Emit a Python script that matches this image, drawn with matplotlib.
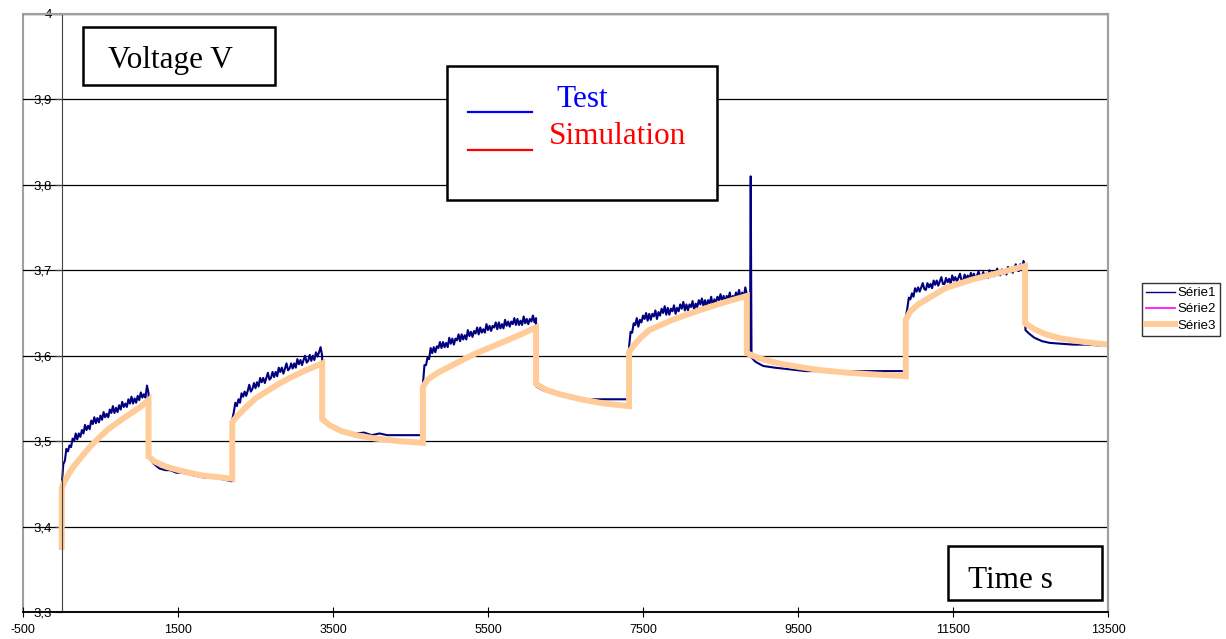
import numpy as np
import matplotlib.pyplot as plt
from matplotlib.patches import Rectangle
from matplotlib.lines import Line2D
from matplotlib.ticker import FuncFormatter

plt.rcParams['axes.unicode_minus'] = False

# axis ticks
x_ticks = [-500, 1500, 3500, 5500, 7500, 9500, 11500, 13500]
y_ticks = [3.3, 3.4, 3.5, 3.6, 3.7, 3.8, 3.9, 4.0]

# simulation (Série3); repeated times are the current steps
sim_t = [0, 0, 30, 100, 150, 250, 360, 480, 600, 800, 1000, 1120,
         1120, 1200, 1350, 1550, 1800, 2000, 2200,
         2200, 2250, 2380, 2500, 2640, 2800, 2940, 3150, 3360,
         3360, 3450, 3600, 3800, 4050, 4350, 4660,
         4660, 4720, 4850, 5000, 5300, 5640, 5900, 6120,
         6120, 6250, 6420, 6700, 7000, 7320,
         7320, 7380, 7480, 7580, 7880, 8220, 8570, 8840,
         8840, 9000, 9250, 9500, 9800, 10150, 10500, 10890,
         10890, 10950, 11050, 11140, 11400, 11740, 12090, 12430,
         12430, 12550, 12700, 12900, 13200, 13500]
sim_v = [3.376, 3.445, 3.452, 3.463, 3.470, 3.481, 3.493, 3.504, 3.514, 3.527, 3.539, 3.548,
         3.482, 3.476, 3.470, 3.465, 3.460, 3.458, 3.456,
         3.522, 3.528, 3.540, 3.550, 3.558, 3.567, 3.574, 3.583, 3.591,
         3.526, 3.519, 3.512, 3.507, 3.503, 3.500, 3.498,
         3.563, 3.572, 3.580, 3.587, 3.601, 3.614, 3.624, 3.633,
         3.567, 3.560, 3.555, 3.549, 3.544, 3.541,
         3.604, 3.612, 3.622, 3.630, 3.642, 3.653, 3.663, 3.670,
         3.603, 3.597, 3.591, 3.587, 3.583, 3.580, 3.578, 3.576,
         3.642, 3.652, 3.660, 3.665, 3.679, 3.689, 3.697, 3.705,
         3.638, 3.631, 3.625, 3.620, 3.616, 3.613]

# test (Série1): charge phases, samples every 20 s between start and end
charge_start = [0, 2200, 4660, 7320, 10890]
charge_end = [1120, 3360, 6120, 8840, 12430]
test_c1 = [3.448, 3.473, 3.477, 3.491, 3.488, 3.495, 3.493, 3.503, 3.500, 3.509,
           3.502, 3.509, 3.505, 3.513, 3.509, 3.519, 3.513, 3.518, 3.514, 3.524,
           3.520, 3.528, 3.521, 3.527, 3.522, 3.530, 3.525, 3.534, 3.528, 3.532,
           3.528, 3.537, 3.533, 3.541, 3.533, 3.539, 3.534, 3.542, 3.537, 3.546,
           3.540, 3.544, 3.540, 3.549, 3.544, 3.552, 3.544, 3.550, 3.545, 3.553,
           3.548, 3.557, 3.551, 3.555, 3.551, 3.565, 3.556]
test_c2 = [3.525, 3.534, 3.545, 3.541, 3.549, 3.545, 3.556, 3.552, 3.558, 3.553,
           3.559, 3.566, 3.558, 3.561, 3.568, 3.562, 3.569, 3.564, 3.574, 3.569,
           3.574, 3.568, 3.574, 3.580, 3.572, 3.574, 3.581, 3.575, 3.581, 3.576,
           3.586, 3.581, 3.586, 3.579, 3.585, 3.591, 3.583, 3.585, 3.591, 3.585,
           3.591, 3.586, 3.596, 3.590, 3.595, 3.589, 3.595, 3.600, 3.592, 3.594,
           3.601, 3.594, 3.600, 3.595, 3.604, 3.599, 3.604, 3.610, 3.600]
test_c3 = [3.566, 3.589, 3.589, 3.598, 3.596, 3.609, 3.603, 3.610, 3.604, 3.611,
           3.609, 3.616, 3.609, 3.616, 3.610, 3.615, 3.610, 3.621, 3.614, 3.620,
           3.613, 3.620, 3.618, 3.625, 3.617, 3.625, 3.619, 3.624, 3.619, 3.630,
           3.623, 3.628, 3.622, 3.629, 3.626, 3.633, 3.625, 3.633, 3.627, 3.631,
           3.627, 3.637, 3.630, 3.635, 3.629, 3.635, 3.633, 3.639, 3.631, 3.639,
           3.632, 3.637, 3.632, 3.642, 3.635, 3.640, 3.634, 3.640, 3.637, 3.644,
           3.636, 3.643, 3.636, 3.641, 3.636, 3.646, 3.638, 3.643, 3.637, 3.643,
           3.640, 3.647, 3.639, 3.644]
test_c4 = [3.610, 3.628, 3.627, 3.638, 3.636, 3.644, 3.634, 3.642, 3.639, 3.647,
           3.643, 3.650, 3.641, 3.649, 3.642, 3.649, 3.646, 3.653, 3.643, 3.651,
           3.647, 3.655, 3.650, 3.658, 3.648, 3.656, 3.648, 3.655, 3.652, 3.659,
           3.649, 3.656, 3.652, 3.660, 3.655, 3.663, 3.653, 3.660, 3.653, 3.660,
           3.657, 3.664, 3.653, 3.661, 3.657, 3.665, 3.660, 3.667, 3.658, 3.665,
           3.658, 3.665, 3.661, 3.669, 3.658, 3.666, 3.662, 3.669, 3.665, 3.672,
           3.663, 3.670, 3.662, 3.670, 3.666, 3.674, 3.663, 3.670, 3.667, 3.674,
           3.669, 3.677, 3.667, 3.674, 3.667, 3.680, 3.672]
test_c5 = [3.645, 3.655, 3.668, 3.666, 3.673, 3.669, 3.679, 3.675, 3.680, 3.675,
           3.680, 3.685, 3.678, 3.677, 3.685, 3.680, 3.684, 3.679, 3.688, 3.683,
           3.688, 3.682, 3.687, 3.692, 3.684, 3.684, 3.691, 3.686, 3.690, 3.684,
           3.694, 3.688, 3.692, 3.687, 3.691, 3.696, 3.688, 3.688, 3.695, 3.689,
           3.694, 3.688, 3.697, 3.691, 3.696, 3.690, 3.694, 3.699, 3.692, 3.691,
           3.698, 3.692, 3.696, 3.691, 3.700, 3.694, 3.698, 3.693, 3.697, 3.702,
           3.695, 3.694, 3.701, 3.696, 3.700, 3.695, 3.704, 3.698, 3.703, 3.697,
           3.702, 3.707, 3.700, 3.699, 3.707, 3.701, 3.711, 3.704]

# test (Série1): rest phases
test_r1_t = [1125, 1180, 1260, 1340, 1400, 1480, 1560, 1650, 1700, 1800, 1900, 2000, 2100, 2195]
test_r1_v = [3.482, 3.474, 3.468, 3.466, 3.466, 3.463, 3.463, 3.461, 3.460, 3.458, 3.457, 3.457, 3.455, 3.453]
test_r2_t = [3365, 3420, 3500, 3580, 3700, 3800, 3900, 4000, 4100, 4200, 4400, 4655]
test_r2_v = [3.529, 3.521, 3.515, 3.513, 3.510, 3.509, 3.510, 3.507, 3.509, 3.507, 3.507, 3.507]
test_r3_t = [6125, 6200, 6300, 6420, 6550, 6700, 6900, 7100, 7315]
test_r3_v = [3.564, 3.560, 3.557, 3.554, 3.551, 3.549, 3.549, 3.549, 3.549]
test_r4_t = [8850, 8880, 8890, 8900, 8950, 9050, 9200, 9400, 9600, 9800, 10000, 10300, 10600, 10885]
test_r4_v = [3.600, 3.600, 3.810, 3.598, 3.593, 3.588, 3.586, 3.584, 3.582, 3.582, 3.582, 3.582, 3.582, 3.582]
test_r5_t = [12435, 12480, 12550, 12650, 12750, 12900, 13050, 13200, 13400, 13500]
test_r5_v = [3.630, 3.626, 3.621, 3.617, 3.615, 3.614, 3.613, 3.613, 3.612, 3.612]

charges = [test_c1, test_c2, test_c3, test_c4, test_c5]
rests = [(test_r1_t, test_r1_v), (test_r2_t, test_r2_v), (test_r3_t, test_r3_v),
         (test_r4_t, test_r4_v), (test_r5_t, test_r5_v)]

test_t = [0.0]
test_v = [3.385]
for i in range(5):
    test_t += list(np.linspace(charge_start[i], charge_end[i], len(charges[i])))
    test_v += charges[i]
    test_t += rests[i][0]
    test_v += rests[i][1]

W, H = 1226, 639
def fx(px):
    return px / W
def fy(py):
    return 1 - py / H

fig = plt.figure(figsize=(W / 100, H / 100), dpi=100)
ax = fig.add_axes([fx(23), fy(612), (1108 - 23) / W, (612 - 14) / H])

l1, = ax.plot(test_t, test_v, color='#000080', lw=1.5, label='Série1')
l2, = ax.plot([], [], color='#FF00FF', lw=1.2, label='Série2')
l3, = ax.plot(sim_t, sim_v, color='#FFCC99', lw=4.3, label='Série3',
              solid_joinstyle='miter')

ax.set_xlim(-500, 13500)
ax.set_ylim(3.3, 4.0)
ax.set_xticks(x_ticks)
ax.set_yticks(y_ticks)
ax.yaxis.set_major_formatter(FuncFormatter(lambda v, p: ('%g' % round(v, 1)).replace('.', ',')))
ax.yaxis.grid(True, color='black', lw=0.9)

ax.spines['left'].set_position(('data', 0))
ax.spines['left'].set_color('#404040')
ax.spines['top'].set_color('#a0a0a0')
ax.spines['right'].set_color('#a0a0a0')
ax.spines['top'].set_linewidth(1.5)
ax.spines['right'].set_linewidth(1.5)
ax.spines['bottom'].set_color('black')
ax.spines['bottom'].set_linewidth(1.3)
ax.add_patch(Rectangle((0, 0), 1, 1, transform=ax.transAxes, fill=False,
                       ec='#a0a0a0', lw=1.5, zorder=0, clip_on=False))

ax.tick_params(axis='y', direction='out', length=5, color='#404040',
               labelsize=9.5, pad=2)
ax.tick_params(axis='x', direction='inout', length=7, color='black',
               labelsize=9, pad=5)
for lab in ax.get_xticklabels() + ax.get_yticklabels():
    lab.set_family('Liberation Sans')

serif = 'Liberation Serif'

# "Voltage V" box
ax.add_patch(Rectangle((fx(83), fy(85)), (275 - 83) / W, (85 - 27) / H,
                       transform=fig.transFigure, fc='white', ec='black',
                       lw=1.8, zorder=5, clip_on=False))
ax.text(fx(170), fy(68), 'Voltage V', transform=fig.transFigure, ha='center',
        va='baseline', fontsize=22.5, family=serif, zorder=6)

# "Time s" box
ax.add_patch(Rectangle((fx(948), fy(600)), (1102 - 948) / W, (600 - 546) / H,
                       transform=fig.transFigure, fc='white', ec='black',
                       lw=1.8, zorder=5, clip_on=False))
ax.text(fx(968), fy(588), 'Time s', transform=fig.transFigure, ha='left',
        va='baseline', fontsize=22.5, family=serif, zorder=6)

# Test / Simulation box
ax.add_patch(Rectangle((fx(447), fy(200)), (717 - 447) / W, (200 - 66) / H,
                       transform=fig.transFigure, fc='white', ec='black',
                       lw=1.8, zorder=5, clip_on=False))
for py, c in [(112, '#0000FF'), (150, '#FF0000')]:
    ax.add_line(Line2D([fx(468), fx(532)], [fy(py), fy(py)], color=c, lw=1.6,
                       transform=fig.transFigure, zorder=6, clip_on=False))
ax.text(fx(556), fy(107), 'Test', transform=fig.transFigure, ha='left',
        va='baseline', fontsize=22.5, family=serif, color='#0000FF', zorder=6)
ax.text(fx(549), fy(144), 'Simulation', transform=fig.transFigure, ha='left',
        va='baseline', fontsize=22.5, family=serif, color='#FF0000', zorder=6)

h1 = Line2D([], [], color='#000080', lw=1.0)
leg = fig.legend([h1, l2, l3], ['Série1', 'Série2', 'Série3'], loc='upper left',
                 bbox_to_anchor=(fx(1142), fy(283)), frameon=True, fancybox=False,
                 edgecolor='black', prop={'family': 'Liberation Sans', 'size': 9.5},
                 handlelength=2.2, borderpad=0.3, labelspacing=0.3,
                 handletextpad=0.2, borderaxespad=0)
leg.get_frame().set_linewidth(1.0)

fig.savefig('out.png', dpi=100)
